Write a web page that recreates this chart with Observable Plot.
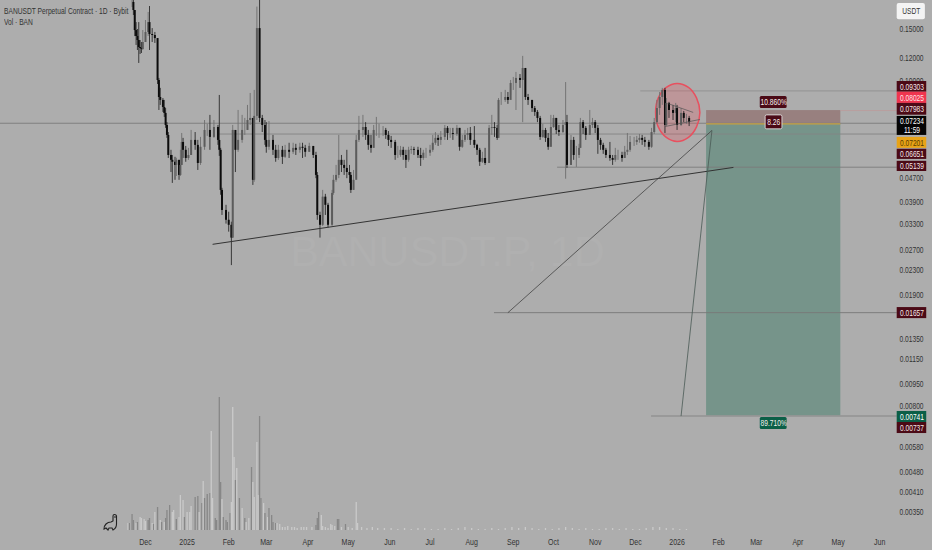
<!DOCTYPE html>
<html><head><meta charset="utf-8">
<script src="https://cdn.jsdelivr.net/npm/d3@7"></script>
<script src="https://cdn.jsdelivr.net/npm/@observablehq/plot@0.6"></script>
<style>
html,body{margin:0;padding:0;background:#adadad;overflow:hidden}
#wrap{position:relative;width:932px;height:550px;overflow:hidden}
.hd{position:absolute;left:4px;font:9px "Liberation Sans",sans-serif;color:#333;white-space:nowrap;transform:scaleX(.74);transform-origin:left center}
</style></head><body><div id="wrap"></div>
<script>
// Candles: days since 2024-12-01, close / high / low prices
const candleDays=[-10,-9,-8,-7,-6,-5,-4,-3,-2,0,2,3,5,7,9,10,11,13,14,15,16,17,19,20,22,23,25,26,27,28,30,32,34,37,39,41,44,46,48,51,54,55,56,57,60,62,64,65,67,69,72,74,76,78,80,81,83,85,87,89,90,92,95,97,99,102,104,107,110,112,115,117,119,122,125,127,128,130,132,134,136,139,140,142,144,146,148,150,152,153,155,157,159,162,164,166,168,170,172,174,177,179,181,183,186,188,190,192,194,196,198,200,203,205,207,209,212,214,216,218,220,223,225,227,229,232,234,236,238,240,242,245,247,249,251,253,256,258,260,262,263,265,268,270,272,274,276,279,281,283,285,288,290,292,294,296,298,300,302,304,306,308,311,313,314,317,319,321,323,324,326,328,331,333,335,337,339,341,343,346,348,350,352,355,357,359,361,364,366,368,370,372,375,377,379,381,383,385,387,388,390,393,395,396,399,401,403,405];
const candleClose=[.1852,.1739,.1488,.1421,.1377,.1304,.1294,.1284,.1356,.1466,.1583,.1443,.1432,.1398,.1009,.0884,.0864,.0818,.0781,.0711,.0658,.0563,.0542,.0534,.0521,.0542,.0482,.0521,.0623,.0586,.055,.0563,.0633,.0609,.0529,.06,.0684,.0684,.0648,.07,.0633,.0586,.0429,.0367,.034,.0327,.0296,.0684,.0586,.0633,.0684,.0684,.0739,.0751,.0464,.0763,.1511,.0751,.0711,.0633,.06,.0633,.0586,.055,.0586,.0555,.0586,.0577,.0595,.0586,.06,.0595,.0577,.0604,.0563,.0482,.0353,.0327,.0407,.0382,.0327,.0419,.0464,.0482,.0542,.0521,.0509,.0493,.0482,.0429,.0464,.0633,.0684,.07,.0658,.0609,.0595,.0684,.0684,.0684,.0684,.0658,.0633,.0623,.0563,.0563,.0586,.0563,.0542,.0586,.059,.0586,.0563,.055,.0573,.0573,.0586,.0619,.0643,.0633,.0648,.0695,.0668,.0668,.0663,.0695,.06,.0633,.0658,.0668,.0633,.0609,.0586,.0534,.055,.0529,.0695,.07,.0695,.0643,.0864,.0864,.0884,.0864,.0986,.0986,.1025,.1009,.1108,.0884,.0864,.0811,.0787,.0751,.0648,.0684,.0643,.06,.07,.0751,.0684,.0673,.0711,.0727,.0521,.0633,.0563,.0563,.0595,.0727,.0695,.0658,.0711,.0727,.0695,.0633,.0609,.0586,.0563,.055,.0542,.0563,.0563,.055,.0577,.0586,.0623,.0623,.0633,.0643,.0633,.0623,.06,.0673,.0727,.0811,.0884,.0934,.0711,.0844,.0799,.0781,.0811,.0711,.0781,.0751,.0751,.0727];
const candleHigh=[.195,.188,.1739,.1583,.15,.1583,.1377,.1356,.1488,.1609,.1713,.1794,.1511,.1466,.1398,.1025,.0949,.0877,.0864,.0811,.0727,.0673,.0586,.0563,.0555,.0551,.0542,.0586,.0668,.0643,.0604,.0595,.0684,.0673,.0633,.0648,.0739,.0717,.0769,.0739,.0711,.0898,.0595,.0436,.0382,.0362,.0335,.0711,.0673,.0799,.0769,.0751,.0831,.0912,.0739,.0934,.1786,.2,.0769,.0739,.0727,.0733,.0658,.0609,.0609,.0604,.0609,.0619,.0619,.0614,.0619,.0619,.0609,.0619,.06,.0577,.0493,.0362,.0429,.0416,.0388,.0429,.0482,.0521,.0658,.0563,.0542,.0586,.0521,.0493,.0501,.0658,.0763,.0769,.0727,.0684,.0658,.0711,.0757,.0717,.0705,.0695,.0678,.0653,.0633,.0604,.0604,.06,.0586,.06,.0604,.06,.06,.0595,.0586,.0595,.0609,.0658,.0673,.0658,.0678,.0711,.0705,.0695,.0695,.0711,.0695,.0658,.0684,.0695,.07,.0705,.0614,.0595,.0577,.0595,.0711,.0769,.0727,.0711,.0877,.0919,.0934,.0919,.1009,.1033,.1074,.1057,.1217,.1025,.0905,.0864,.0824,.0799,.0763,.0717,.0695,.0668,.0769,.0769,.0751,.0711,.0739,.0993,.0769,.0658,.0648,.0604,.0614,.0751,.0739,.0705,.0799,.0751,.0739,.0711,.0643,.0619,.0595,.0623,.0563,.0595,.0586,.0577,.0604,.0668,.0653,.0648,.0653,.0663,.0658,.0648,.0633,.0695,.0751,.0864,.0919,.0949,.0949,.0877,.0851,.0831,.0844,.0831,.0811,.0793,.0775,.0763];
const candleLow=[.178,.1673,.142,.1325,.1274,.1152,.1235,.1245,.1274,.1377,.1421,.1274,.1356,.1346,.0978,.0799,.0831,.0787,.0757,.0695,.0643,.055,.0493,.0453,.0464,.0478,.0464,.0478,.0521,.055,.0534,.0542,.0563,.0586,.0501,.0521,.0586,.0653,.0586,.0643,.0609,.0559,.0413,.0353,.033,.031,.0239,.0296,.0493,.0577,.0619,.0658,.0684,.0711,.0446,.0457,.0739,.0727,.0673,.0609,.0573,.0586,.0563,.0534,.0542,.0525,.055,.055,.0568,.0563,.0573,.055,.0555,.0577,.055,.047,.034,.0296,.0324,.0353,.032,.0324,.0413,.0457,.047,.0493,.0482,.047,.0453,.0419,.0429,.047,.0623,.0648,.0633,.0586,.0573,.0595,.0653,.0643,.0653,.0638,.0604,.0595,.0542,.055,.0555,.0542,.0509,.0534,.0568,.0563,.055,.0517,.0542,.055,.0559,.0577,.0609,.0604,.0609,.0633,.0633,.0643,.0633,.0653,.0582,.0595,.0623,.0633,.0609,.0595,.0563,.0517,.0529,.0521,.06,.0658,.0648,.0633,.0658,.0831,.0851,.0838,.0898,.0934,.0799,.0949,.0727,.0864,.0831,.0787,.0763,.0727,.0633,.0643,.0623,.0586,.06,.0695,.0663,.0653,.0668,.0468,.0509,.0521,.0542,.0513,.055,.0595,.0663,.0633,.0663,.0695,.0668,.0568,.0586,.0568,.055,.0538,.0521,.0534,.0542,.0534,.055,.0563,.0577,.0604,.0609,.0619,.0609,.06,.0586,.0595,.0663,.0717,.0769,.0831,.0668,.0705,.0751,.0739,.0727,.0684,.0705,.0727,.0717,.0705];

// Volume: days since 2024-12-01, volume in millions, up bar flag
const volDays=[-13,-12,-10,-9,-7,-6,-4,-3,-1,0,2,3,5,6,7,9,11,12,14,15,16,18,20,21,23,25,26,28,29,31,33,34,37,39,40,42,43,44,46,48,49,50,52,53,55,56,57,58,60,61,63,64,65,66,67,68,70,72,74,75,77,79,80,81,83,84,85,86,88,89,91,92,94,95,97,98,100,102,104,106,109,111,113,116,118,120,124,127,128,129,131,132,134,136,138,139,141,143,144,146,149,151,154,157,158,161,165,169,173,178,183,188,193,198,203,208,213,218,223,228,233,238,243,248,253,258,263,268,273,278,283,288,293,298,303,308,313,318,323,328,333,338,343,348,353,358,363,368,373,378,383,388,393,398,403];
const volAmount=[7,7,16,10,7,8,13,12,11,9,10,12,7,6,18,23,10,8,8,12,20,25,18,20,11,13,35,30,13,18,18,24,33,34,18,27,49,32,36,37,99,32,12,10,133,48,31,13,10,8,17,28,123,73,50,62,32,22,12,8,12,63,48,33,88,35,114,32,27,17,13,22,15,8,7,7,6,3,3,4,3,3,2,3,3,3,3,5,12,18,15,4,3,2,6,5,4,11,11,3,6,3,2,28,7,3,2,3,2,2,2,1,2,1,2,2,1,1,2,1,2,3,2,1,1,2,1,2,3,2,3,2,1,2,1,2,3,2,1,2,1,1,2,2,1,2,1,1,2,3,3,2,2,1,1];
const volUp=[1,0,0,0,1,0,1,1,1,1,0,0,1,0,1,0,1,0,1,0,0,0,1,1,0,1,1,1,0,1,1,1,0,0,1,0,1,0,0,0,1,1,0,0,0,0,1,0,0,0,0,1,1,1,0,1,0,1,0,1,1,0,1,1,1,1,0,0,1,0,1,0,0,0,0,1,1,1,1,1,1,1,1,1,1,1,1,0,0,0,1,1,1,1,1,1,1,0,0,1,0,1,1,1,1,1,1,1,1,1,1,1,1,1,1,1,1,1,1,1,1,1,1,1,1,1,1,1,1,1,1,1,1,1,1,1,1,1,1,1,1,1,1,1,1,1,1,1,1,1,1,1,1,1,1];

// Axis labels
const priceTicks=[.15,.12,.1,.047,.039,.033,.027,.023,.019,.0135,.0115,.0095,.008,.0058,.0048,.0041,.0035];
const monthDates=["2024-12-01","2025-01-01","2025-02-01","2025-03-01","2025-04-01","2025-05-01","2025-06-01","2025-07-01","2025-08-01","2025-09-01","2025-10-01","2025-11-01","2025-12-01","2026-01-01","2026-02-01","2026-03-01","2026-04-01","2026-05-01","2026-06-01"];
const monthLabels=["Dec","2025","Feb","Mar","Apr","May","Jun","Jul","Aug","Sep","Oct","Nov","Dec","2026","Feb","Mar","Apr","May","Jun"];

// Price tags on the right scale
const tagLabels=["0.09303","0.08025","0.07983","0.07234\n11:59","0.07201","0.06651","0.05139","0.01657","0.00741","0.00737"];
const tagTop=[.1001,.0921,.0844,.0763,.0648,.0591,.0538,.01724,.00768,.00705];
const tagBottom=[.0921,.0844,.077,.0658,.0595,.0546,.0497,.01582,.00705,.00647];
const tagFill=["#4b0a16","#f0354f","#4b0a16","#050505","#e8a317","#4b0a16","#4b0a16","#4b0a16","#0b5f47","#4b0a16"];
const tagText=["#f2e6e6","#ffe3e6","#f2e6e6","#fff","#5a3a00","#f2e6e6","#f2e6e6","#f2e6e6","#fff","#f2e6e6"];

// Horizontal levels: price, first day, last day, colour, width
const levelPrice=[.07234,.06651,.09303,.07983,.05139,.01657,.00741];
const levelStart=[-108,54,369,518,307,260,377];
const levelEnd=[560,560,560,560,560,560,560];
const levelColor=["#7c7c7c","#858585","#8e8e8e","#bc9a9a","#7c7c7c","#777","#939393"];
const levelWidth=[.9,.9,.9,.8,.9,.9,1.5];

// Trend lines
const trendDay1=[50,270,399,389,387], trendPrice1=[.0282,.01657,.00741,.0844,.0705];
const trendDay2=[438,422,422,408,413], trendPrice2=[.0513,.0684,.0684,.0787,.0745];
const trendColor=["#333","#444","#4a5a55","#555","#555"];
const trendWidth=[1,.8,.8,.7,.7];

// Position box
const boxStart=418, boxEnd=518, stopPrice=.07983, entryPrice=.07201, targetPrice=.00741;

// Ringed area
const ringDays=[413,410.5,404.5,396,388,382,380,382,388,396,404.5,410.5];
const ringPrices=[.0787,.0703,.0648,.0628,.0648,.0703,.0787,.0881,.0956,.0986,.0956,.0881];

// Percent labels
const noteLabels=["10.860%","8.26","89.710%"];
const noteStart=[458,462,458], noteEnd=[478,474.5,478];
const noteTop=[.0891,.0769,.00733], noteBottom=[.0811,.069,.00667];
const noteFill=["#4b0a16","#4b0a16","#0b5f47"];
const noteStroke=["none","#eee","none"];

const FONT='"Liberation Sans",sans-serif';
const t=d=>new Date(Date.UTC(2024,11,1)+d*864e5);
const candles=candleDays.map((d,i)=>({date:t(d),close:candleClose[i],high:candleHigh[i],low:candleLow[i],open:i?candleClose[i-1]:candleClose[i]}));
const up=d=>d.close>=d.open;
const vols=volDays.map((d,i)=>({date:t(d),v:volAmount[i],up:volUp[i]}));
const levels=levelPrice.map((p,i)=>({p,a:t(levelStart[i]),b:t(levelEnd[i]),c:levelColor[i],w:levelWidth[i]}));
const trends=trendDay1.map((d,i)=>({x1:t(d),y1:trendPrice1[i],x2:t(trendDay2[i]),y2:trendPrice2[i],c:trendColor[i],w:trendWidth[i]}));
const ring=ringDays.map((d,i)=>({x:t(d),y:ringPrices[i]}));
const tags=tagLabels.map((l,i)=>({l,top:tagTop[i],bot:tagBottom[i],f:tagFill[i],c:tagText[i],mid:Math.sqrt(tagTop[i]*tagBottom[i])}));
const notes=noteLabels.map((l,i)=>({l,a:t(noteStart[i]),b:t(noteEnd[i]),top:noteTop[i],bot:noteBottom[i],f:noteFill[i],s:noteStroke[i],mid:Math.sqrt(noteTop[i]*noteBottom[i])}));
const xDomain=[t(-108),t(586.3)];

const volPlot=Plot.plot({width:932,height:550,marginTop:0,marginLeft:0,marginRight:0,marginBottom:20,
  style:{background:"transparent"},
  x:{type:"utc",domain:xDomain,axis:null},y:{domain:[0,530],axis:null},
  marks:[Plot.ruleX(vols,{x:"date",y1:0,y2:"v",stroke:d=>d.up?"#cacaca":"#878787",strokeWidth:1.3})]});

const pricePlot=Plot.plot({width:932,height:550,margin:0,
  style:{background:"transparent",fontFamily:FONT},
  x:{type:"utc",domain:xDomain,axis:null},y:{type:"log",domain:[.002604,.188],axis:null},
  marks:[
    Plot.text(["BANUSDT.P, 1D"],{x:t(225),y:.0265,text:d=>d,fontSize:43,fill:"#b0b0b0",className:"wm"}),
    Plot.rect([0],{x1:t(boxStart),x2:t(boxEnd),y1:stopPrice,y2:entryPrice,fill:"#98807f"}),
    Plot.rect([0],{x1:t(boxStart),x2:t(boxEnd),y1:entryPrice,y2:targetPrice,fill:"#76948a"}),
    Plot.ruleY(levels,{y:"p",x1:"a",x2:"b",stroke:"c",strokeWidth:"w"}),
    Plot.ruleY([entryPrice],{x1:t(boxStart),x2:t(boxEnd),stroke:"#c9a040",strokeWidth:1.2}),
    Plot.line(ring,{x:"x",y:"y",curve:"catmull-rom-closed",stroke:"#e8505f",strokeWidth:1.5,fill:"#e65a64",fillOpacity:.28}),
    Plot.ruleX(candles,{x:"date",y1:"low",y2:"high",stroke:d=>up(d)?"#6e6e6e":"#2a2a2a",strokeWidth:.9}),
    Plot.ruleX(candles,{x:"date",y1:"open",y2:"close",stroke:d=>up(d)?"#5c5c5c":"#0c0c0c",strokeWidth:2}),
    Plot.link(trends,{x1:"x1",y1:"y1",x2:"x2",y2:"y2",stroke:"c",strokeWidth:"w"}),
    Plot.text(priceTicks,{x:t(570.7),y:d=>d,text:d=>d.toFixed(5),fontSize:8.5,fill:"#333"}),
    Plot.text(monthDates,{x:d=>new Date(d+"T00:00:00Z"),text:(d,i)=>monthLabels[i],frameAnchor:"bottom",dy:-6,fontSize:9,fill:"#333"}),
    Plot.rect(tags,{x1:t(560),x2:t(582),y1:"top",y2:"bot",fill:"f"}),
    Plot.text(tags,{x:t(571),y:"mid",text:"l",fill:"c",fontSize:8.5}),
    Plot.rect([0],{x1:t(560),x2:t(581),y1:.1836,y2:.1619,fill:"#f4f4f4",rx:2}),
    Plot.text(["USDT"],{x:t(570.5),y:.1725,text:d=>d,fontSize:8.5,fill:"#333"}),
    Plot.rect(notes,{x1:"a",x2:"b",y1:"top",y2:"bot",fill:"f",stroke:"s",strokeWidth:.8,rx:1.5}),
    Plot.text(notes,{x:d=>t(468),y:"mid",text:"l",fill:"#f4eeee",fontSize:8.5})
  ]});

const wrap=document.getElementById("wrap");
wrap.append(volPlot,pricePlot);
[volPlot,pricePlot].forEach(s=>{s.style.position="absolute";s.style.left=0;s.style.top=0;});
wrap.insertAdjacentHTML("beforeend",
 '<div class="hd" style="top:6px">BANUSDT Perpetual Contract · 1D · Bybit</div><div class="hd" style="top:17px">Vol · BAN</div>'+
 '<svg style="position:absolute;left:103px;top:513px" width="15" height="18" viewBox="0 0 15 18"><path d="M1 16 C1 12 4 9 8 9 L10 8 L10 3 C10 1 13 1 13.5 3 L13.5 11 C13.5 14 12 16 10 17 L9 15 L6 15 L5 17 L3 15 Z M11 4 L13 4" fill="none" stroke="#222" stroke-width="1.1"/></svg>');
// The reference's labels are horizontally condensed: fit each to the same narrow width.
pricePlot.querySelectorAll("g[aria-label=text] text").forEach(el=>{
  if(el.closest(".wm")||parseFloat(getComputedStyle(el).fontSize)>20) return;
  const parts=el.querySelectorAll("tspan");
  (parts.length?[...parts]:[el]).forEach(p=>{
    p.setAttribute("textLength",(p.getComputedTextLength()*.78).toFixed(1));
    p.setAttribute("lengthAdjust","spacingAndGlyphs");
  });
});
</script></body></html>
